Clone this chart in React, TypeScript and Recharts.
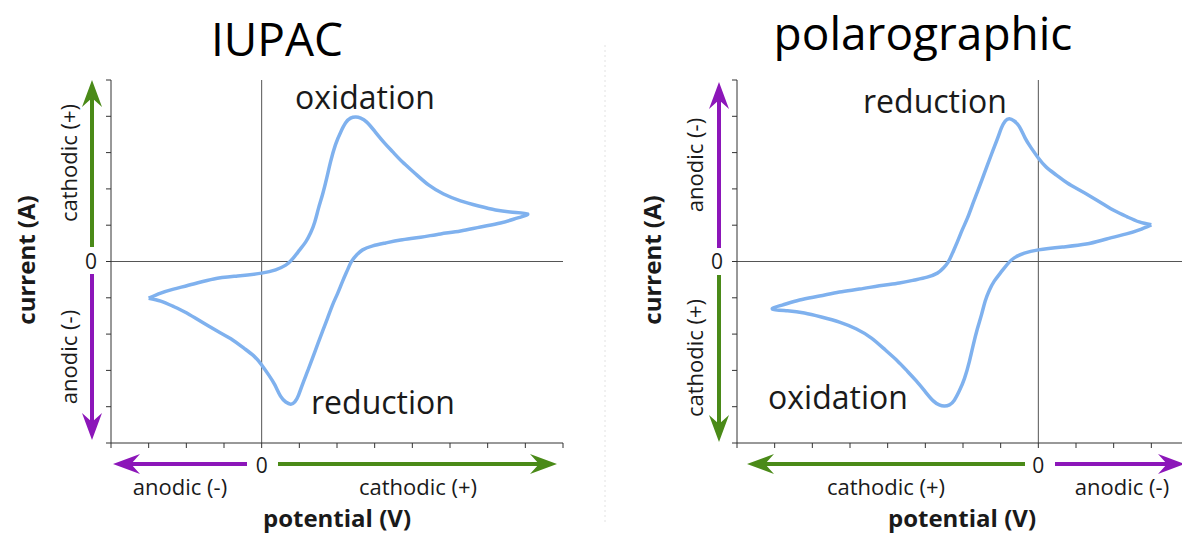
import { Line, LineChart, ReferenceLine, XAxis, YAxis } from 'recharts';

// one cyclic voltammogram, traced around the loop starting at the negative vertex
const potential = [
  -3.0, -2.68, -2.34, -1.81, -1.27, -0.64, 0, 0.37, 0.64, 0.82, 1.01, 1.17, 1.3, 1.41, 1.51, 1.62, 1.73, 1.83, 1.96,
  2.1, 2.23, 2.36, 2.5, 2.63, 2.79, 3.0, 3.24, 3.48, 3.74, 4.06, 4.43, 4.83, 5.28, 5.76, 6.21, 6.66, 7.06,
  6.8, 6.34, 5.81, 5.28, 4.75, 4.22, 3.69, 3.29, 2.95, 2.68, 2.52, 2.39, 2.28, 2.15, 2.02, 1.88, 1.75, 1.62, 1.49,
  1.35, 1.22, 1.09, 0.98, 0.88, 0.77, 0.64, 0.5, 0.35, 0.19, 0, -0.21, -0.48, -0.77, -1.09, -1.41, -1.73, -2.04,
  -2.36, -2.68, -3.0,
];
const current = [
  -1.01, -0.87, -0.76, -0.62, -0.48, -0.4, -0.32, -0.23, -0.1, 0.07, 0.32, 0.54, 0.79, 1.09, 1.47, 1.86, 2.31, 2.75,
  3.22, 3.57, 3.82, 3.95, 3.98, 3.95, 3.84, 3.59, 3.29, 3.02, 2.74, 2.44, 2.11, 1.86, 1.67, 1.53, 1.42, 1.36, 1.31,
  1.2, 1.06, 0.95, 0.84, 0.76, 0.67, 0.59, 0.51, 0.43, 0.32, 0.18, 0.01, -0.23, -0.54, -0.87, -1.2, -1.56, -1.91,
  -2.27, -2.66, -3.02, -3.37, -3.68, -3.87, -3.93, -3.87, -3.71, -3.4, -3.13, -2.85, -2.6, -2.38, -2.16, -1.97,
  -1.78, -1.58, -1.39, -1.23, -1.09, -1.01,
];
const potentialTicks = [-4, -3, -2, -1, 0, 1, 2, 3, 4, 5, 6, 7, 8];
const currentTicks = [-5, -4, -3, -2, -1, 0, 1, 2, 3, 4, 5];

const cv = potential.map((v, k) => ({ potential: v, current: current[k] }));

const GREEN = '#4a8a18';
const PURPLE = '#8c16b9';
const INK = '#1a1a1a';
const font = '"Open Sans", sans-serif';

const zeroTickX = (p: any) =>
  p.payload.value === 0 ? (
    <text x={p.x} y={p.y + 15} dy="0.36em" textAnchor="middle" fontSize={21} fill={INK} fontFamily={font}>
      0
    </text>
  ) : (
    <g />
  );

const zeroTickY = (p: any) =>
  p.payload.value === 0 ? (
    <text x={p.x - 6} y={p.y} dy="0.36em" textAnchor="middle" fontSize={21} fill={INK} fontFamily={font}>
      0
    </text>
  ) : (
    <g />
  );

const Arrow = ({ from, to, color }: { from: number[]; to: number[]; color: string }) => {
  const [x1, y1] = from;
  const [x2, y2] = to;
  const len = Math.hypot(x2 - x1, y2 - y1);
  const dx = (x2 - x1) / len;
  const dy = (y2 - y1) / len;
  const L = 27;
  const W = 10;
  const N = 9;
  const bx = x2 - dx * L;
  const by = y2 - dy * L;
  const mx = x2 - dx * (L - N);
  const my = y2 - dy * (L - N);
  return (
    <g>
      <line x1={x1} y1={y1} x2={mx} y2={my} stroke={color} strokeWidth={4} />
      <polygon
        points={`${x2},${y2} ${bx - dy * W},${by + dx * W} ${mx},${my} ${bx + dy * W},${by - dx * W}`}
        fill={color}
      />
    </g>
  );
};

const Label = ({ x, y, size = 22, weight = 400, rotate = false, children }: any) => (
  <text
    x={x}
    y={y}
    fontSize={size}
    fontWeight={weight}
    fontFamily={font}
    fill={INK}
    textAnchor="middle"
    dominantBaseline="central"
    transform={rotate ? `rotate(-90 ${x} ${y})` : undefined}
  >
    {children}
  </text>
);

const CvPanel = ({ left, flip }: { left: number; flip: boolean }) => (
  <div style={{ position: 'absolute', left, top: 0 }}>
    <LineChart width={600} height={533} data={cv} margin={{ top: 80, right: 37, bottom: 60, left: 81 }}>
      <XAxis
        type="number"
        dataKey="potential"
        domain={[-4, 8]}
        ticks={potentialTicks}
        interval={0}
        reversed={flip}
        height={30}
        tickSize={5}
        tickMargin={2}
        stroke="#333"
        tick={zeroTickX}
        allowDataOverflow
      />
      <YAxis
        type="number"
        dataKey="current"
        domain={[-5, 5]}
        ticks={currentTicks}
        interval={0}
        reversed={flip}
        width={30}
        tickSize={5}
        tickMargin={9}
        stroke="#333"
        tick={zeroTickY}
        allowDataOverflow
      />
      <ReferenceLine x={0} stroke="#555" />
      <ReferenceLine y={0} stroke="#555" />
      <Line
        type="natural"
        dataKey="current"
        stroke="#7fb1ee"
        strokeWidth={3.5}
        dot={false}
        isAnimationActive={false}
      />
    </LineChart>
  </div>
);

export default function App() {
  return (
    <div
      style={{
        position: 'absolute',
        left: 0,
        top: 0,
        width: 1182,
        height: 533,
        overflow: 'hidden',
        background: '#fff',
      }}
    >
      <CvPanel left={0} flip={false} />
      <CvPanel left={626} flip={true} />
      <svg width={1182} height={533} style={{ position: 'absolute', left: 0, top: 0, pointerEvents: 'none' }}>
        <line x1={605} y1={45} x2={605} y2={525} stroke="#e2e2e2" strokeDasharray="2 3" />

        <text x={277} y={56} fontSize={46} fontWeight={500} fontFamily={font} fill="#000" textAnchor="middle">
          IUPAC
        </text>
        <text x={923} y={50} fontSize={46} fontWeight={500} fontFamily={font} fill="#000" textAnchor="middle">
          polarographic
        </text>

        {/* IUPAC panel */}
        <Arrow from={[92, 247]} to={[92, 80]} color={GREEN} />
        <Arrow from={[92, 274]} to={[92, 440]} color={PURPLE} />
        <Arrow from={[247, 464]} to={[113, 464]} color={PURPLE} />
        <Arrow from={[278, 464]} to={[557, 464]} color={GREEN} />
        <Label x={25} y={260} size={24} weight={700} rotate>current (A)</Label>
        <Label x={68} y={163} rotate>cathodic (+)</Label>
        <Label x={68} y={357} rotate>anodic (-)</Label>
        <Label x={180} y={486}>anodic (-)</Label>
        <Label x={418} y={486}>cathodic (+)</Label>
        <Label x={337} y={517} size={24} weight={700}>potential (V)</Label>
        <Label x={365} y={96} size={32} weight={500}>oxidation</Label>
        <Label x={383} y={401} size={32} weight={500}>reduction</Label>

        {/* polarographic panel */}
        <Arrow from={[719, 248]} to={[719, 82]} color={PURPLE} />
        <Arrow from={[719, 275]} to={[719, 442]} color={GREEN} />
        <Arrow from={[1025, 464]} to={[747, 464]} color={GREEN} />
        <Arrow from={[1055, 464]} to={[1185, 464]} color={PURPLE} />
        <Label x={651} y={260} size={24} weight={700} rotate>current (A)</Label>
        <Label x={694} y={165} rotate>anodic (-)</Label>
        <Label x={694} y={358} rotate>cathodic (+)</Label>
        <Label x={886} y={486}>cathodic (+)</Label>
        <Label x={1122} y={486}>anodic (-)</Label>
        <Label x={962} y={517} size={24} weight={700}>potential (V)</Label>
        <Label x={935} y={100} size={32} weight={500}>reduction</Label>
        <Label x={838} y={396} size={32} weight={500}>oxidation</Label>
      </svg>
    </div>
  );
}
